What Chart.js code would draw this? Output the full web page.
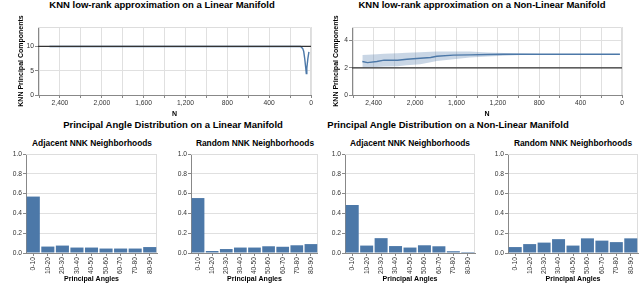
<!DOCTYPE html>
<html>
<head>
<meta charset="utf-8">
<script src="https://cdn.jsdelivr.net/npm/chart.js@4"></script>
<style>
  body { margin: 0; width: 640px; height: 302px; background: #fff; position: relative; overflow: hidden;
         font-family: "Liberation Sans", Arial, sans-serif; }
  canvas { position: absolute; }
  .t { position: absolute; font-weight: bold; color: #000; white-space: nowrap; line-height: 1;
       transform: translate(-50%, -50%); }
</style>
</head>
<body>
<div class="t" style="left:162px;top:5px;font-size:9.5px">KNN low-rank approximation on a Linear Manifold</div>
<div class="t" style="left:482px;top:5px;font-size:9.5px">KNN low-rank approximation on a Non-Linear Manifold</div>
<div class="t" style="left:173px;top:125px;font-size:9.5px">Principal Angle Distribution on a Linear Manifold</div>
<div class="t" style="left:448px;top:125px;font-size:9.5px">Principal Angle Distribution on a Non-Linear Manifold</div>
<div class="t" style="left:92px;top:143px;font-size:8.4px">Adjacent NNK Neighborhoods</div>
<div class="t" style="left:255px;top:143px;font-size:8.4px">Random NNK Neighborhoods</div>
<div class="t" style="left:410px;top:143px;font-size:8.4px">Adjacent NNK Neighborhoods</div>
<div class="t" style="left:573px;top:143px;font-size:8.4px">Random NNK Neighborhoods</div>

<canvas id="linLine" width="320" height="118" style="left:0;top:0"></canvas>
<canvas id="nlLine" width="320" height="118" style="left:320px;top:0"></canvas>
<canvas id="bar1" width="160" height="137" style="left:0;top:148px"></canvas>
<canvas id="bar2" width="160" height="137" style="left:160px;top:148px"></canvas>
<canvas id="bar3" width="160" height="137" style="left:320px;top:148px"></canvas>
<canvas id="bar4" width="160" height="137" style="left:480px;top:148px"></canvas>

<script>
// top row: KNN rank vs N
const nMax = 2610;
const nTicks = [0, 200, 400, 600, 800, 1000, 1200, 1400, 1600, 1800, 2000, 2200, 2400, 2600];
const linearRank = 10;
const nonLinearRank = 2;
const linYTicks = [0, 5, 10];
const nlYTicks = [0, 2, 4];

const linearN = [2500, 2000, 1500, 1000, 500, 100, 80, 70, 60, 50, 45, 40, 30, 20];
const linearK = [10, 10, 10, 10, 10, 10, 9.6, 9, 7.5, 5.5, 4.4, 5.5, 7.5, 8.9];

const nlN    = [2510, 2460, 2370, 2300, 2170, 2080, 1950, 1850, 1790, 1630, 1470, 1300, 1140, 980, 800, 600, 400, 200, 20];
const nlMean = [2.46, 2.38, 2.46, 2.56, 2.56, 2.63, 2.70, 2.76, 2.85, 2.93, 2.95, 2.98, 3.0, 3.0, 3.0, 3.0, 3.0, 3.0, 3.0];
const nlLow  = [2.02, 2.03, 2.06, 2.09, 2.12, 2.18, 2.27, 2.40, 2.50, 2.63, 2.76, 2.83, 2.88, 2.94, 2.98, 3.0, 3.0, 3.0, 3.0];
const nlHigh = [2.95, 2.96, 3.0, 3.04, 3.07, 3.10, 3.14, 3.18, 3.20, 3.20, 3.19, 3.13, 3.08, 3.05, 3.02, 3.0, 3.0, 3.0, 3.0];

// bottom row: principal angle histograms
const angleBins = ['0-10', '10-20', '20-30', '30-40', '40-50', '50-60', '60-70', '70-80', '80-90'];
const linAdjacent    = [0.57, 0.065, 0.075, 0.055, 0.055, 0.045, 0.045, 0.045, 0.06];
const linRandom      = [0.555, 0.02, 0.04, 0.055, 0.055, 0.068, 0.063, 0.078, 0.09];
const nonLinAdjacent = [0.485, 0.075, 0.15, 0.07, 0.055, 0.078, 0.068, 0.018, 0.01];
const nonLinRandom   = [0.06, 0.09, 0.105, 0.14, 0.075, 0.148, 0.125, 0.11, 0.148];

const blue = '#4c78a8';
const band = 'rgba(76,120,168,0.3)';
const gridCol = '#e0e0e0';
const axisCol = '#888';
const labelFont = { family: '"Liberation Sans", Arial, sans-serif', size: 6.7 };
const titleFont = { family: '"Liberation Sans", Arial, sans-serif', size: 7, weight: 'bold' };

const pts = (xs, ys) => xs.map((x, i) => ({ x, y: ys[i] }));

// light frame on the top and right of the plot
const frame = {
  id: 'frame',
  beforeDatasetsDraw(chart) {
    const { ctx, chartArea: a } = chart;
    ctx.save();
    ctx.strokeStyle = '#ddd';
    ctx.lineWidth = 1;
    ctx.beginPath();
    ctx.moveTo(a.left, a.top + 0.5);
    ctx.lineTo(a.right - 0.5, a.top + 0.5);
    ctx.lineTo(a.right - 0.5, a.bottom);
    ctx.stroke();
    ctx.restore();
  }
};

const lineChart = (id, datasets, yMax, yTicks, yWidth, titlePad, padRight) => {
  new Chart(document.getElementById(id), {
    type: 'line',
    data: { datasets },
    plugins: [frame],
    options: {
      responsive: false,
      animation: false,
      devicePixelRatio: 1,
      layout: { padding: { top: 27, left: 0, right: padRight, bottom: 0 } },
      elements: { point: { radius: 0 } },
      plugins: { legend: { display: false }, tooltip: { enabled: false } },
      scales: {
        x: {
          type: 'linear',
          reverse: true,
          min: 0,
          max: nMax,
          afterFit: s => { s.height = 23; },
          afterBuildTicks: s => { s.ticks = nTicks.map(v => ({ value: v })); },
          grid: { color: gridCol, tickColor: axisCol, tickLength: 3 },
          border: { color: axisCol },
          ticks: {
            autoSkip: false,
            maxRotation: 0,
            padding: 1,
            color: '#333',
            font: labelFont,
            callback: v => (v % 400 === 0 ? v.toLocaleString('en-US') : '')
          },
          title: { display: true, text: 'N', color: '#000', font: titleFont, padding: 0 }
        },
        y: {
          min: 0,
          max: yMax,
          afterFit: s => { s.width = yWidth; },
          afterBuildTicks: s => { s.ticks = yTicks.map(v => ({ value: v })); },
          grid: { color: gridCol, tickColor: axisCol, tickLength: 3 },
          border: { color: axisCol },
          ticks: { padding: 1, color: '#333', font: labelFont },
          title: { display: true, text: 'KNN Principal Components', color: '#000', font: titleFont,
                   padding: { top: titlePad, bottom: 0 } }
        }
      }
    }
  });
};

lineChart('linLine', [
  { data: pts([nMax, 0], [linearRank, linearRank]), borderColor: '#333', borderWidth: 1.3 },
  { data: pts(linearN, linearK), borderColor: blue, borderWidth: 1.4 }
], 14, linYTicks, 38, 16.8, 9);

lineChart('nlLine', [
  { data: pts([nMax, 0], [nonLinearRank, nonLinearRank]), borderColor: '#333', borderWidth: 1.3 },
  { data: pts(nlN, nlMean), borderColor: blue, borderWidth: 1.4 },
  { data: pts(nlN, nlHigh), borderWidth: 0, borderColor: 'rgba(0,0,0,0)', backgroundColor: band, fill: '+1' },
  { data: pts(nlN, nlLow), borderWidth: 0, borderColor: 'rgba(0,0,0,0)' }
], 5, nlYTicks, 32, 11.8, 18);

const barChart = (id, values, yWidth, padRight) => {
  new Chart(document.getElementById(id), {
    type: 'bar',
    data: {
      labels: angleBins,
      datasets: [{ data: values, backgroundColor: blue, barPercentage: 0.9, categoryPercentage: 1 }]
    },
    plugins: [frame],
    options: {
      responsive: false,
      animation: false,
      devicePixelRatio: 1,
      layout: { padding: { top: 6, left: 0, right: padRight, bottom: 0 } },
      plugins: { legend: { display: false }, tooltip: { enabled: false } },
      scales: {
        x: {
          afterFit: s => { s.height = 32; },
          grid: { display: true, drawOnChartArea: false, offset: false, tickColor: axisCol, tickLength: 3 },
          border: { color: axisCol },
          ticks: { minRotation: 90, maxRotation: 90, padding: 1, color: '#333', font: labelFont },
          title: { display: true, text: 'Principal Angles', color: '#000', font: titleFont,
                   padding: { top: 0, bottom: 1.5 } }
        },
        y: {
          min: 0,
          max: 1,
          afterFit: s => { s.width = yWidth; },
          grid: { color: gridCol, tickColor: axisCol, tickLength: 3 },
          border: { color: axisCol },
          ticks: { stepSize: 0.2, padding: 1, color: '#333', font: labelFont, callback: v => v.toFixed(1) }
        }
      }
    }
  });
};

barChart('bar1', linAdjacent, 26, 3);
barChart('bar2', linRandom, 31, 1);
barChart('bar3', nonLinAdjacent, 25, 5);
barChart('bar4', nonLinRandom, 28, 2);
</script>
</body>
</html>
